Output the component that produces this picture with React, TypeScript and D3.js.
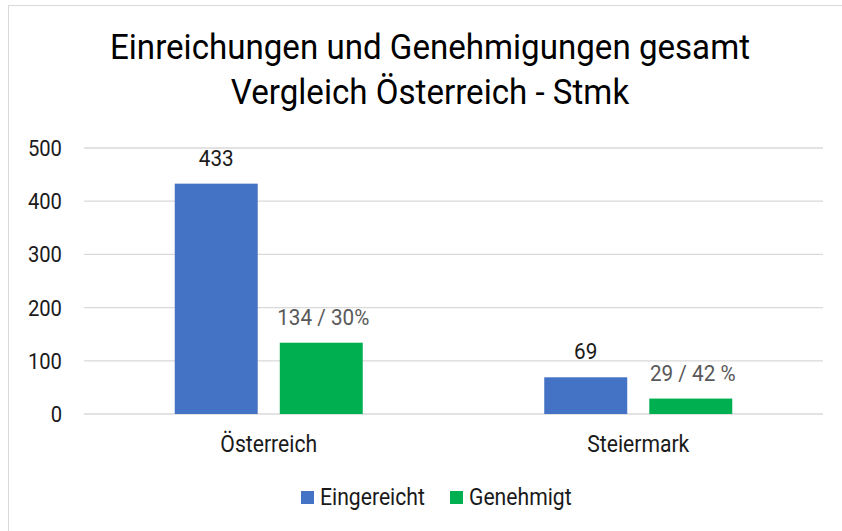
import React from "react";
import * as d3 from "d3";

const categories = ["Österreich", "Steiermark"];
const seriesNames = ["Eingereicht", "Genehmigt"];
const eingereicht = [433, 69];
const genehmigt = [134, 29];
const genehmigtLabels = ["134 / 30%", "29 / 42 %"];
const yTicks = [0, 100, 200, 300, 400, 500];
const titleLines = ["Einreichungen und Genehmigungen gesamt", "Vergleich Österreich - Stmk"];

const colors = ["#4472C4", "#00B050"];
const W = 842;
const H = 531;
const SX = 0.92;
const FONT = "Roboto, 'Noto Sans', sans-serif";

function Label({ x, y, size, anchor = "middle", fill = "#1a1a1a", children }: any) {
  return (
    <g transform={`translate(${x},${y}) scale(${SX},1)`}>
      <text x={0} y={0} fontSize={size} textAnchor={anchor} fill={fill} fontFamily={FONT}>
        {children}
      </text>
    </g>
  );
}

export default function App() {
  const y = d3.scaleLinear().domain([0, 500]).range([414, 148]);
  const x0 = d3.scaleBand<string>().domain(categories).range([84, 823]).padding(0);
  const x1 = d3.scaleBand<string>().domain(seriesNames).range([-94, 94]).paddingInner(0.21);
  const values = [eingereicht, genehmigt];
  const labelText = [eingereicht.map(String), genehmigtLabels];
  const labelFill = ["#1a1a1a", "#595959"];

  return (
    <svg width={W} height={H} style={{ position: "absolute", left: 0, top: 0, background: "#fff" }}>
      <rect x={8.5} y={5.5} width={W} height={H} fill="#fff" stroke="#d9d9d9" strokeWidth={1} />
      {titleLines.map((t, i) => (
        <Label key={t} x={430} y={59 + i * 45} size={36} fill="#000">
          {t}
        </Label>
      ))}
      {yTicks.map((t) => (
        <g key={t}>
          <line x1={84} x2={823} y1={y(t)} y2={y(t)} stroke="#d9d9d9" strokeWidth={1.3} />
          <Label x={62} y={y(t) + 8} size={22} anchor="end">
            {t}
          </Label>
        </g>
      ))}
      {categories.map((c, ci) => {
        const cx = (x0(c) as number) + x0.bandwidth() / 2;
        return (
          <g key={c}>
            {seriesNames.map((s, si) => {
              const v = values[si][ci];
              const bx = cx + (x1(s) as number);
              return (
                <g key={s}>
                  <rect x={bx} y={y(v)} width={x1.bandwidth()} height={y(0) - y(v)} fill={colors[si]} />
                  <Label x={bx + x1.bandwidth() / 2 + (si === 1 ? 2 : 0)} y={y(v) - 18} size={22.5} fill={labelFill[si]}>
                    {labelText[si][ci]}
                  </Label>
                </g>
              );
            })}
            <Label x={cx} y={452} size={23}>
              {c}
            </Label>
          </g>
        );
      })}
      {seriesNames.map((s, i) => {
        const lx = [301, 450][i];
        return (
          <g key={s}>
            <rect x={lx} y={491} width={13} height={13} fill={colors[i]} />
            <Label x={lx + 19} y={505} size={23} anchor="start">
              {s}
            </Label>
          </g>
        );
      })}
    </svg>
  );
}
